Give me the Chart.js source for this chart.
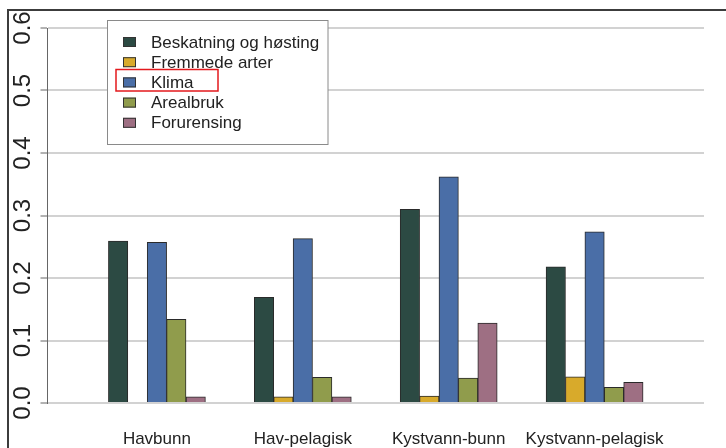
<!DOCTYPE html>
<html lang="no">
<head>
    <meta charset="UTF-8">
    <title>Påvirkninger per økosystem</title>
    <script src="https://cdn.jsdelivr.net/npm/chart.js"></script>
    <style>
        html, body {
            margin: 0;
            padding: 0;
            background-color: #fff;
        }
        .chart-container {
            position: relative;
            width: 726px;
            height: 448px;
        }
    </style>
</head>
<body>
    <div class="chart-container">
        <canvas id="barChart"></canvas>
    </div>

    <script>
        // Data lest av figuren
        const categories = ['Havbunn', 'Hav-pelagisk', 'Kystvann-bunn', 'Kystvann-pelagisk'];
        const seriesNames = ['Beskatning og høsting', 'Fremmede arter', 'Klima', 'Arealbruk', 'Forurensing'];
        const beskatning = [0.259, 0.169, 0.310, 0.218];
        const fremmedeArter = [0.000, 0.010, 0.011, 0.042];
        const klima = [0.257, 0.263, 0.362, 0.274];
        const arealbruk = [0.134, 0.041, 0.040, 0.025];
        const forurensing = [0.010, 0.010, 0.128, 0.033];
        const yTicks = [0.0, 0.1, 0.2, 0.3, 0.4, 0.5, 0.6];

        const seriesValues = [beskatning, fremmedeArter, klima, arealbruk, forurensing];
        const colors = ['#2c4a43', '#d8aa2b', '#4a6ea7', '#909c4c', '#9e6f83'];
        const fontFamily = '"Liberation Sans", Arial, Helvetica, sans-serif';

        // Legende med ramme, tegnet inne i plottet
        const boxLegend = {
            id: 'boxLegend',
            afterDatasetsDraw(chart) {
                const ctx = chart.ctx;
                ctx.save();
                ctx.fillStyle = '#fff';
                ctx.fillRect(107.5, 20.5, 220.5, 124);
                ctx.strokeStyle = '#8a8a8a';
                ctx.lineWidth = 1;
                ctx.strokeRect(107.5, 20.5, 220.5, 124);
                ctx.font = '17px ' + fontFamily;
                ctx.textBaseline = 'middle';
                chart.data.datasets.forEach((ds, i) => {
                    const y = 42 + i * 20.2;
                    ctx.fillStyle = ds.backgroundColor;
                    ctx.fillRect(123, y - 5, 13, 10);
                    ctx.strokeStyle = '#333';
                    ctx.strokeRect(123.5, y - 4.5, 12, 9);
                    ctx.fillStyle = '#222';
                    ctx.fillText(ds.label, 151, y + 1);
                });
                // rød markering rundt "Klima"
                ctx.strokeStyle = '#e3191d';
                ctx.lineWidth = 1.5;
                ctx.strokeRect(116, 69.5, 102, 21.5);
                ctx.restore();
            }
        };

        // Ramme oppe og til venstre
        const frame = {
            id: 'frame',
            afterDraw(chart) {
                const ctx = chart.ctx;
                ctx.save();
                ctx.fillStyle = '#3c3c3c';
                ctx.fillRect(7, 9, 719, 2);
                ctx.fillRect(7, 9, 2, 439);
                ctx.restore();
            }
        };

        const barCtx = document.getElementById('barChart').getContext('2d');
        new Chart(barCtx, {
            type: 'bar',
            data: {
                datasets: seriesNames.map((name, s) => ({
                    label: name,
                    data: seriesValues[s].map((v, i) => ({ x: i, y: v })),
                    backgroundColor: colors[s],
                    borderColor: '#2a2a2a',
                    borderWidth: 1,
                    barThickness: 19.4
                }))
            },
            options: {
                responsive: true,
                maintainAspectRatio: false,
                animation: false,
                layout: {
                    padding: { left: 7.5, right: 22, top: 28, bottom: 0 }
                },
                plugins: {
                    legend: { display: false },
                    tooltip: { enabled: false }
                },
                scales: {
                    x: {
                        type: 'linear',
                        offset: false,
                        min: -0.75,
                        max: 3.75,
                        afterBuildTicks: (s) => {
                            s.ticks = categories.map((c, i) => ({ value: i }));
                        },
                        afterFit: (s) => { s.height = 45; },
                        grid: { display: false, offset: false },
                        border: { display: false },
                        ticks: {
                            autoSkip: false,
                            maxRotation: 0,
                            padding: 18,
                            color: '#222',
                            font: { family: fontFamily, size: 17 },
                            callback: (v) => categories[v]
                        }
                    },
                    y: {
                        min: 0,
                        max: 0.6,
                        afterBuildTicks: (s) => {
                            s.ticks = yTicks.map(v => ({ value: v }));
                        },
                        afterFit: (s) => { s.width = 40; },
                        grid: {
                            color: '#d2d2d2',
                            lineWidth: 2,
                            tickColor: '#666',
                            tickWidth: 1,
                            tickLength: 7
                        },
                        border: { display: true, color: '#666', width: 1 },
                        ticks: {
                            padding: 0,
                            minRotation: 90,
                            maxRotation: 90,
                            crossAlign: 'center',
                            color: '#222',
                            font: { family: fontFamily, size: 24 },
                            callback: (v) => v.toFixed(1)
                        }
                    }
                }
            },
            plugins: [boxLegend, frame]
        });
    </script>
</body>
</html>
